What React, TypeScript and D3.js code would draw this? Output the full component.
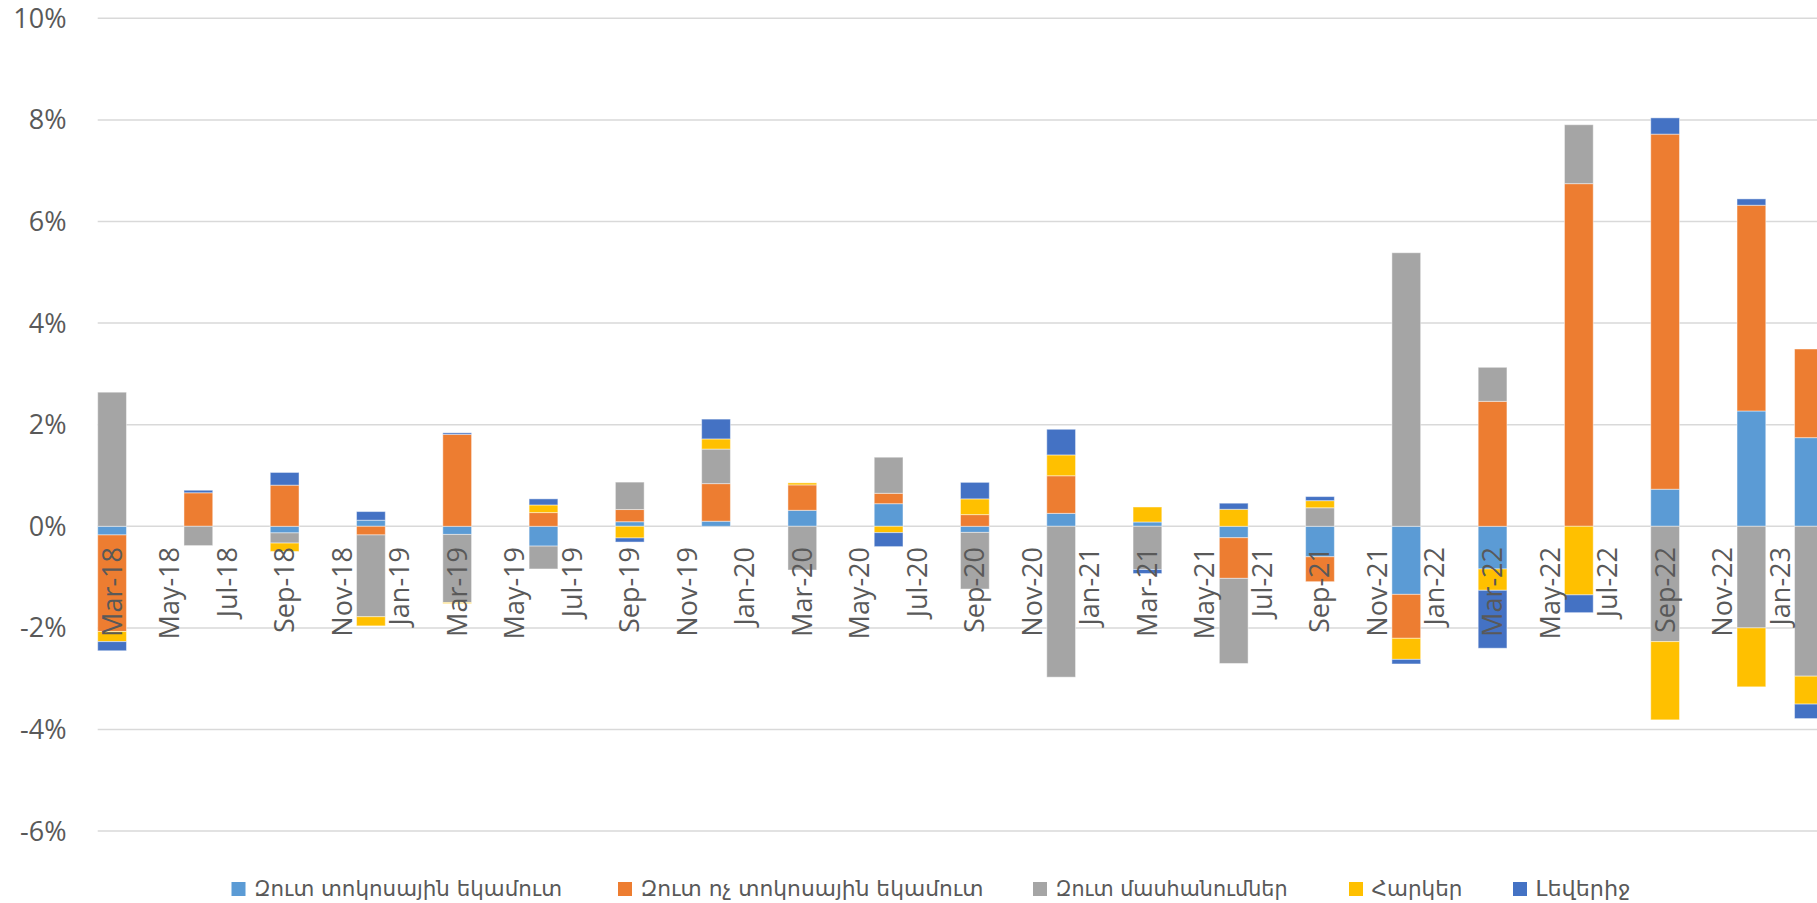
import React, { useEffect } from "react";
import * as d3 from "d3";

// Quarter-end periods (last one is Feb-23)
const periods = [
  "2018-03", "2018-06", "2018-09", "2018-12",
  "2019-03", "2019-06", "2019-09", "2019-12",
  "2020-03", "2020-06", "2020-09", "2020-12",
  "2021-03", "2021-06", "2021-09", "2021-12",
  "2022-03", "2022-06", "2022-09", "2022-12",
  "2023-02",
];

// Values in percent
const netInterest = [-0.17, 0, -0.13, 0.12, -0.16, -0.39, 0.09, 0.10, 0.315, 0.445, -0.12, 0.255, 0.085, -0.225, -0.60, -1.34, -0.84, 0, 0.73, 2.27, 1.745];
const netNonInterest = [-1.90, 0.66, 0.81, -0.17, 1.81, 0.27, 0.24, 0.74, 0.50, 0.205, 0.23, 0.74, 0, -0.80, -0.49, -0.865, 2.46, 6.745, 6.99, 4.05, 1.745];
const provisions = [2.64, -0.38, -0.20, -1.61, -1.34, -0.45, 0.54, 0.68, -0.86, 0.71, -1.115, -2.97, -0.85, -1.675, 0.365, 5.385, 0.67, 1.16, -2.27, -2.00, -2.95];
const taxes = [-0.20, 0, -0.165, -0.18, -0.02, 0.15, -0.23, 0.20, 0.04, -0.125, 0.31, 0.41, 0.295, 0.335, 0.14, -0.415, -0.42, -1.35, -1.54, -1.16, -0.55];
const leverage = [-0.18, 0.05, 0.25, 0.17, 0.03, 0.12, -0.08, 0.39, 0, -0.275, 0.325, 0.505, -0.08, 0.12, 0.08, -0.09, -1.14, -0.35, 0.32, 0.125, -0.285];

const seriesKeys = ["netInterest", "netNonInterest", "provisions", "taxes", "leverage"];
const seriesNames = [
  "Զուտ տոկոսային եկամուտ",
  "Զուտ ոչ տոկոսային եկամուտ",
  "Զուտ մասհանումներ",
  "Հարկեր",
  "Լեվերիջ",
];
const seriesColors = ["#5B9BD5", "#ED7D31", "#A5A5A5", "#FFC000", "#4472C4"];
const yTicks = [-6, -4, -2, 0, 2, 4, 6, 8, 10];

// legend layout
const legendX = [231.5, 618, 1033, 1349, 1513];
const legendTextW = [308, 343, 232, 91, 95];

export default function App() {
  useEffect(() => {
    document.body.style.margin = "0";
    document.body.style.overflow = "hidden";
  }, []);

  const W = 1817;
  const H = 903;
  const parse = d3.timeParse("%Y-%m");
  const months = d3.timeMonth.range(new Date(2018, 2, 1), new Date(2023, 4, 1));
  const monthW = 28.76;
  const left = 97.7;
  const x = d3
    .scaleBand<number>()
    .domain(months.map((d) => +d))
    .range([left, left + months.length * monthW])
    .padding(0);
  const y = d3.scaleLinear().domain([-6, 10]).range([831.1, 18.3]);

  const rows = periods.map((p, i) => ({
    date: +(parse(p) as Date),
    netInterest: netInterest[i],
    netNonInterest: netNonInterest[i],
    provisions: provisions[i],
    taxes: taxes[i],
    leverage: leverage[i],
  }));
  const stacked = d3
    .stack<any>()
    .keys(seriesKeys)
    .offset(d3.stackOffsetDiverging)(rows);

  const fmt = d3.timeFormat("%b-%y");
  const tickMonths = months.filter(
    (m, i) => i % 2 === 0 && (x(+m) as number) + x.bandwidth() / 2 < W - 15
  );
  const fontAxis = "'Open Sans', 'Noto Sans', sans-serif";
  const fontLegend = "'DejaVu Sans', 'Noto Sans', sans-serif";

  return (
    <svg width={W} height={H} style={{ display: "block", background: "#fff" }}>
      {/* gridlines */}
      {yTicks.map((t) => (
        <line key={t} x1={left} x2={W} y1={y(t)} y2={y(t)} stroke="#D9D9D9" strokeWidth={1.5} />
      ))}
      {/* y labels */}
      {yTicks.map((t) => (
        <text
          key={"l" + t}
          x={66.5}
          y={y(t)}
          dy="0.35em"
          textAnchor="end"
          fontFamily={fontAxis}
          fontSize={27}
          fill="#595959"
        >
          {t + "%"}
        </text>
      ))}
      {/* bars */}
      {stacked.map((s, si) => (
        <g key={s.key} fill={seriesColors[si]}>
          {s.map((d, i) => {
            const y0 = y(d[0]);
            const y1 = y(d[1]);
            const h = Math.abs(y0 - y1);
            if (h < 0.01) return null;
            return (
              <rect
                key={i}
                x={x(rows[i].date)}
                width={x.bandwidth()}
                y={Math.min(y0, y1)}
                height={h}
                stroke="#ffffff"
                strokeOpacity={0.45}
                strokeWidth={1}
              />
            );
          })}
        </g>
      ))}
      {/* x labels */}
      {tickMonths.map((m) => {
        const cx = (x(+m) as number) + x.bandwidth() / 2;
        return (
          <text
            key={+m}
            transform={`translate(${cx},547) rotate(-90)`}
            textAnchor="end"
            dy="0.35em"
            fontFamily={fontAxis}
            fontSize={27}
            fill="#595959"
          >
            {fmt(m)}
          </text>
        );
      })}
      {/* legend */}
      {seriesNames.map((n, i) => (
        <g key={n}>
          <rect x={legendX[i]} y={882} width={14} height={14} fill={seriesColors[i]} />
          <text
            x={legendX[i] + 22.5}
            y={889}
            dy="0.35em"
            fontFamily={fontLegend}
            fontSize={21}
            fill="#595959"
            textLength={legendTextW[i]}
            lengthAdjust="spacingAndGlyphs"
          >
            {n}
          </text>
        </g>
      ))}
    </svg>
  );
}
